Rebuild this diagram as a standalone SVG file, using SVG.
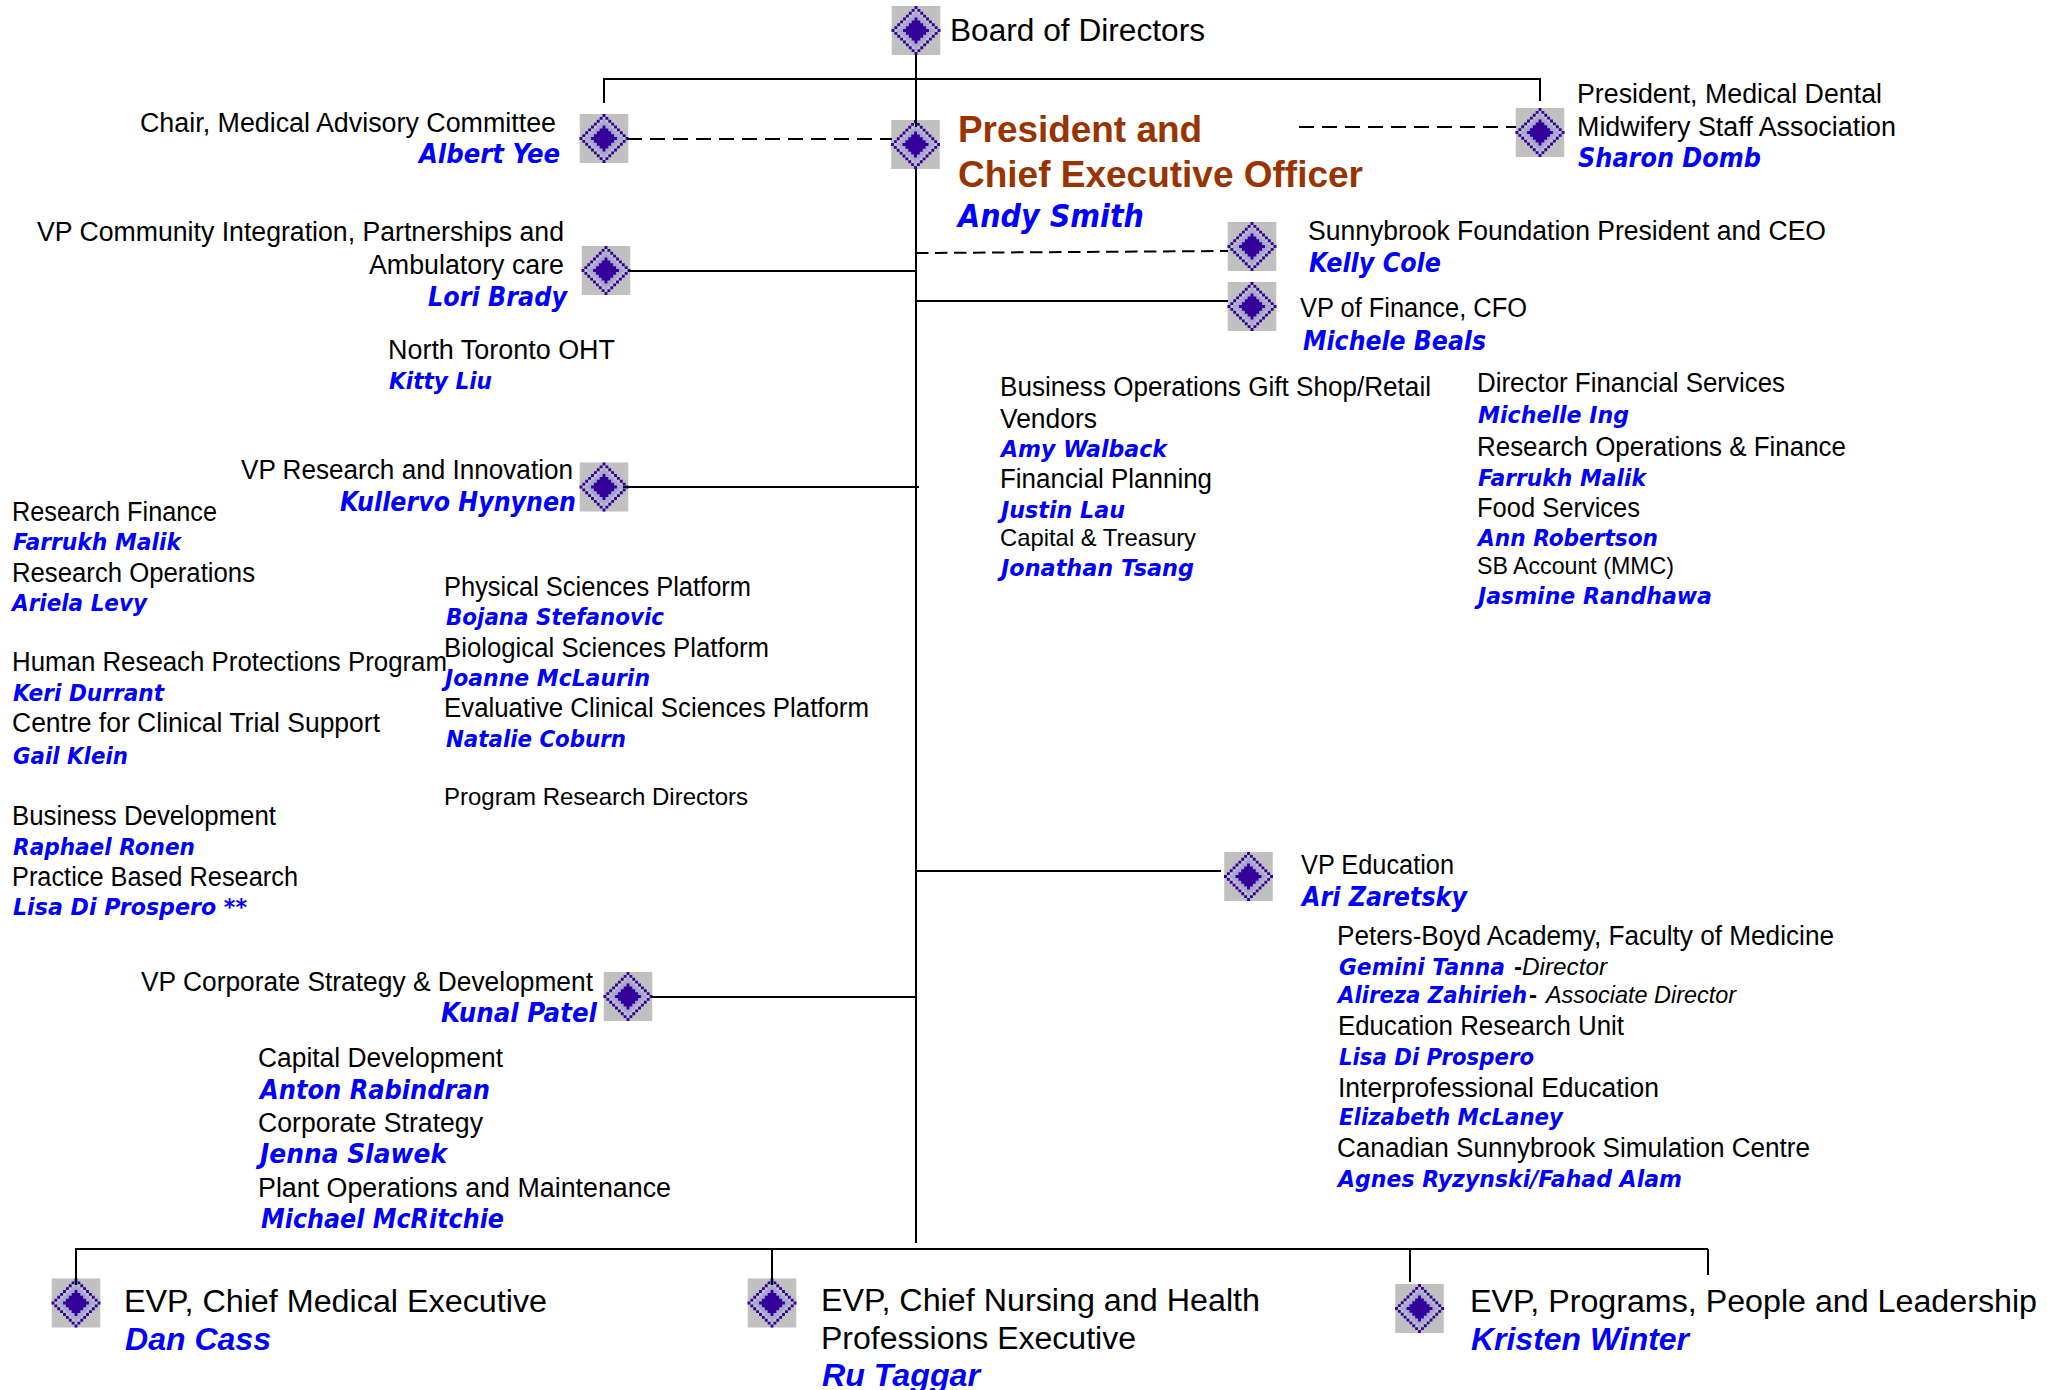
<svg xmlns="http://www.w3.org/2000/svg" width="2047" height="1390" viewBox="0 0 2047 1390">
<style>
text{font-family:"Liberation Sans",Arial,sans-serif;fill:#000;font-size:27px}
.n{font-family:"DejaVu Sans",Verdana,sans-serif;font-weight:bold;font-style:italic;fill:#0000ff;font-size:26.500px}
.s{font-size:24px}
.l{font-size:31px}
.n.s{font-size:23.500px}
.n.l{font-family:"Liberation Sans",Arial,sans-serif;font-size:31px}
.n.x{font-size:32px}
.h{font-size:36px;font-weight:bold;fill:#993300}
.i{font-style:italic;font-size:24px}
.b{font-size:24px;font-weight:bold}
.c line{stroke:#000;stroke-width:2;fill:none}
.c .d{stroke-dasharray:15 8}
.c .e{stroke-dasharray:12.500 6.500}
</style>
<defs>
<g id="dia">
<rect x="-24.250" y="-24.500" width="48.500" height="49" fill="#c0c0c0"/>
<g transform="scale(2.880)">
<path fill="#a8a4d4" d="M-.5-6.500h1v1h1v1h1v1h1v1h1v1h1v1h1v1h-1v1h-1v1h-1v1h-1v1h-1v1h-1v1h-1v-1h-1v-1h-1v-1h-1v-1h-1v-1h-1v-1h-1v-1h1v-1h1v-1h1v-1h1v-1h1v-1h1z"/>
<path fill="#330099" d="M-.5-4.500h1v1h1v1h1v1h1v1h1v1h-1v1h-1v1h-1v1h-1v1h-1v-1h-1v-1h-1v-1h-1v-1h-1v-1h1v-1h1v-1h1v-1h1z"/>
<path fill="#330099" d="M-.5-8.500h1v1h-1zM-.5 7.500h1v1h-1zM-8.500-.5h1v1h-1zM7.500-.5h1v1h-1zM.5-7.500h1v1h-1zM-1.500-7.500h1v1h-1zM.5 6.500h1v1h-1zM-1.500 6.500h1v1h-1zM1.500-6.500h1v1h-1zM-2.500-6.500h1v1h-1zM1.500 5.500h1v1h-1zM-2.500 5.500h1v1h-1zM2.500-5.500h1v1h-1zM-3.500-5.500h1v1h-1zM2.500 4.500h1v1h-1zM-3.500 4.500h1v1h-1zM3.500-4.500h1v1h-1zM-4.500-4.500h1v1h-1zM3.500 3.500h1v1h-1zM-4.500 3.500h1v1h-1zM4.500-3.500h1v1h-1zM-5.500-3.500h1v1h-1zM4.500 2.500h1v1h-1zM-5.500 2.500h1v1h-1zM5.500-2.500h1v1h-1zM-6.500-2.500h1v1h-1zM5.500 1.500h1v1h-1zM-6.500 1.500h1v1h-1zM6.500-1.500h1v1h-1zM-7.500-1.500h1v1h-1zM6.500.5h1v1h-1zM-7.500.5h1v1h-1z"/>
</g>
</g>
</defs>
<rect width="2047" height="1390" fill="#fff"/>
<g id="board"><use href="#dia" x="916" y="30.500"/><text x="950" y="41" class="l" textLength="255" lengthAdjust="spacingAndGlyphs">Board of Directors</text></g>
<g id="ceo"><use href="#dia" x="915.500" y="144.500"/><text x="958" y="142" class="h" textLength="244" lengthAdjust="spacingAndGlyphs">President and</text><text x="958" y="187" class="h" textLength="405" lengthAdjust="spacingAndGlyphs">Chief Executive Officer</text><text x="958" y="227" class="n x" textLength="186" lengthAdjust="spacingAndGlyphs">Andy Smith</text></g>
<g id="chair"><use href="#dia" x="604" y="138.500"/><text x="140" y="132" textLength="416" lengthAdjust="spacingAndGlyphs">Chair, Medical Advisory Committee</text><text x="419" y="163" class="n" textLength="141" lengthAdjust="spacingAndGlyphs">Albert Yee</text></g>
<g id="community"><use href="#dia" x="606" y="270.500"/><text x="37" y="241" textLength="527" lengthAdjust="spacingAndGlyphs">VP Community Integration, Partnerships and</text><text x="369" y="274" textLength="195" lengthAdjust="spacingAndGlyphs">Ambulatory care</text><text x="428" y="306" class="n" textLength="139" lengthAdjust="spacingAndGlyphs">Lori Brady</text></g>
<g id="oht"><text x="388" y="359" textLength="227" lengthAdjust="spacingAndGlyphs">North Toronto OHT</text><text x="389" y="389" class="n s" textLength="103" lengthAdjust="spacingAndGlyphs">Kitty Liu</text></g>
<g id="research"><use href="#dia" x="604" y="487"/><text x="241" y="479" textLength="332" lengthAdjust="spacingAndGlyphs">VP Research and Innovation</text><text x="340" y="511" class="n" textLength="236" lengthAdjust="spacingAndGlyphs">Kullervo Hynynen</text>
<text x="12" y="521" textLength="205" lengthAdjust="spacingAndGlyphs">Research Finance</text><text x="13" y="550" class="n s" textLength="168" lengthAdjust="spacingAndGlyphs">Farrukh Malik</text>
<text x="12" y="582" textLength="243" lengthAdjust="spacingAndGlyphs">Research Operations</text><text x="12" y="611" class="n s" textLength="135" lengthAdjust="spacingAndGlyphs">Ariela Levy</text>
<text x="12" y="671" textLength="435" lengthAdjust="spacingAndGlyphs">Human Reseach Protections Program</text><text x="13" y="701" class="n s" textLength="151" lengthAdjust="spacingAndGlyphs">Keri Durrant</text>
<text x="12" y="732" textLength="368" lengthAdjust="spacingAndGlyphs">Centre for Clinical Trial Support</text><text x="13" y="764" class="n s" textLength="115" lengthAdjust="spacingAndGlyphs">Gail Klein</text>
<text x="12" y="825" textLength="264" lengthAdjust="spacingAndGlyphs">Business Development</text><text x="13" y="855" class="n s" textLength="182" lengthAdjust="spacingAndGlyphs">Raphael Ronen</text>
<text x="12" y="886" textLength="286" lengthAdjust="spacingAndGlyphs">Practice Based Research</text><text x="13" y="915" class="n s" textLength="234" lengthAdjust="spacingAndGlyphs">Lisa Di Prospero **</text>
<text x="444" y="596" textLength="307" lengthAdjust="spacingAndGlyphs">Physical Sciences Platform</text><text x="446" y="625" class="n s" textLength="218" lengthAdjust="spacingAndGlyphs">Bojana Stefanovic</text>
<text x="444" y="657" textLength="325" lengthAdjust="spacingAndGlyphs">Biological Sciences Platform</text><text x="445" y="686" class="n s" textLength="205" lengthAdjust="spacingAndGlyphs">Joanne McLaurin</text>
<text x="444" y="717" textLength="425" lengthAdjust="spacingAndGlyphs">Evaluative Clinical Sciences Platform</text><text x="446" y="747" class="n s" textLength="180" lengthAdjust="spacingAndGlyphs">Natalie Coburn</text>
<text x="444" y="805" class="s" textLength="304" lengthAdjust="spacingAndGlyphs">Program Research Directors</text></g>
<g id="strategy"><use href="#dia" x="628" y="996.500"/><text x="141" y="991" textLength="452" lengthAdjust="spacingAndGlyphs">VP Corporate Strategy &amp; Development</text><text x="441" y="1022" class="n" textLength="156" lengthAdjust="spacingAndGlyphs">Kunal Patel</text>
<text x="258" y="1067" textLength="245" lengthAdjust="spacingAndGlyphs">Capital Development</text><text x="260" y="1099" class="n" textLength="230" lengthAdjust="spacingAndGlyphs">Anton Rabindran</text>
<text x="258" y="1132" textLength="225" lengthAdjust="spacingAndGlyphs">Corporate Strategy</text><text x="260" y="1163" class="n" textLength="187" lengthAdjust="spacingAndGlyphs">Jenna Slawek</text>
<text x="258" y="1197" textLength="413" lengthAdjust="spacingAndGlyphs">Plant Operations and Maintenance</text><text x="261" y="1228" class="n" textLength="243" lengthAdjust="spacingAndGlyphs">Michael McRitchie</text></g>
<g id="medstaff"><use href="#dia" x="1540" y="132.500"/><text x="1577" y="103" textLength="305" lengthAdjust="spacingAndGlyphs">President, Medical Dental</text><text x="1577" y="136" textLength="319" lengthAdjust="spacingAndGlyphs">Midwifery Staff Association</text><text x="1578" y="167" class="n" textLength="183" lengthAdjust="spacingAndGlyphs">Sharon Domb</text></g>
<g id="foundation"><use href="#dia" x="1252" y="246.500"/><text x="1308" y="240" textLength="518" lengthAdjust="spacingAndGlyphs">Sunnybrook Foundation President and CEO</text><text x="1309" y="272" class="n" textLength="132" lengthAdjust="spacingAndGlyphs">Kelly Cole</text></g>
<g id="finance"><use href="#dia" x="1252" y="306.500"/><text x="1300" y="317" textLength="227" lengthAdjust="spacingAndGlyphs">VP of Finance, CFO</text><text x="1303" y="350" class="n" textLength="183" lengthAdjust="spacingAndGlyphs">Michele Beals</text>
<text x="1000" y="396" textLength="431" lengthAdjust="spacingAndGlyphs">Business Operations Gift Shop/Retail</text><text x="1000" y="428" textLength="97" lengthAdjust="spacingAndGlyphs">Vendors</text><text x="1001" y="457" class="n s" textLength="166" lengthAdjust="spacingAndGlyphs">Amy Walback</text>
<text x="1000" y="488" textLength="212" lengthAdjust="spacingAndGlyphs">Financial Planning</text><text x="1001" y="518" class="n s" textLength="124" lengthAdjust="spacingAndGlyphs">Justin Lau</text>
<text x="1000" y="546" class="s" textLength="196" lengthAdjust="spacingAndGlyphs">Capital &amp; Treasury</text><text x="1001" y="576" class="n s" textLength="193" lengthAdjust="spacingAndGlyphs">Jonathan Tsang</text>
<text x="1477" y="392" textLength="308" lengthAdjust="spacingAndGlyphs">Director Financial Services</text><text x="1478" y="423" class="n s" textLength="151" lengthAdjust="spacingAndGlyphs">Michelle Ing</text>
<text x="1477" y="456" textLength="369" lengthAdjust="spacingAndGlyphs">Research Operations &amp; Finance</text><text x="1478" y="486" class="n s" textLength="168" lengthAdjust="spacingAndGlyphs">Farrukh Malik</text>
<text x="1477" y="517" textLength="163" lengthAdjust="spacingAndGlyphs">Food Services</text><text x="1478" y="546" class="n s" textLength="180" lengthAdjust="spacingAndGlyphs">Ann Robertson</text>
<text x="1477" y="574" class="s" textLength="197" lengthAdjust="spacingAndGlyphs">SB Account (MMC)</text><text x="1478" y="604" class="n s" textLength="234" lengthAdjust="spacingAndGlyphs">Jasmine Randhawa</text></g>
<g id="education"><use href="#dia" x="1248.500" y="876.500"/><text x="1301" y="874" textLength="153" lengthAdjust="spacingAndGlyphs">VP Education</text><text x="1302" y="906" class="n" textLength="165" lengthAdjust="spacingAndGlyphs">Ari Zaretsky</text>
<text x="1337" y="945" textLength="497" lengthAdjust="spacingAndGlyphs">Peters-Boyd Academy, Faculty of Medicine</text>
<text x="1339" y="975" class="n s" textLength="166" lengthAdjust="spacingAndGlyphs">Gemini Tanna</text><text x="1514" y="975" class="b">-</text><text x="1522" y="975" class="i" textLength="85" lengthAdjust="spacingAndGlyphs">Director</text>
<text x="1338" y="1003" class="n s" textLength="189" lengthAdjust="spacingAndGlyphs">Alireza Zahirieh</text><text x="1529" y="1003" class="b">-</text><text x="1546" y="1003" class="i" textLength="190" lengthAdjust="spacingAndGlyphs">Associate Director</text>
<text x="1338" y="1035" textLength="286" lengthAdjust="spacingAndGlyphs">Education Research Unit</text><text x="1339" y="1065" class="n s" textLength="195" lengthAdjust="spacingAndGlyphs">Lisa Di Prospero</text>
<text x="1338" y="1097" textLength="321" lengthAdjust="spacingAndGlyphs">Interprofessional Education</text><text x="1339" y="1125" class="n s" textLength="224" lengthAdjust="spacingAndGlyphs">Elizabeth McLaney</text>
<text x="1337" y="1157" textLength="473" lengthAdjust="spacingAndGlyphs">Canadian Sunnybrook Simulation Centre</text><text x="1338" y="1187" class="n s" textLength="344" lengthAdjust="spacingAndGlyphs">Agnes Ryzynski/Fahad Alam</text></g>
<g id="cme"><use href="#dia" x="76" y="1303"/><text x="124" y="1312" class="l" textLength="423" lengthAdjust="spacingAndGlyphs">EVP, Chief Medical Executive</text><text x="125" y="1350" class="n l" textLength="146" lengthAdjust="spacingAndGlyphs">Dan Cass</text></g>
<g id="cno"><use href="#dia" x="772" y="1303"/><text x="821" y="1311" class="l" textLength="439" lengthAdjust="spacingAndGlyphs">EVP, Chief Nursing and Health</text><text x="821" y="1349" class="l" textLength="315" lengthAdjust="spacingAndGlyphs">Professions Executive</text><text x="822" y="1386" class="n l" textLength="158" lengthAdjust="spacingAndGlyphs">Ru Taggar</text></g>
<g id="people"><use href="#dia" x="1419.500" y="1308.500"/><text x="1470" y="1312" class="l" textLength="567" lengthAdjust="spacingAndGlyphs">EVP, Programs, People and Leadership</text><text x="1471" y="1350" class="n l" textLength="218" lengthAdjust="spacingAndGlyphs">Kristen Winter</text></g>
<g id="connectors" class="c">
<line x1="916" y1="55" x2="916" y2="127"/><line x1="916" y1="169" x2="916" y2="1243"/>
<line x1="603" y1="79" x2="1541" y2="79"/><line x1="604" y1="79" x2="604" y2="103"/><line x1="1540" y1="79" x2="1540" y2="101"/>
<line class="d" x1="627" y1="139" x2="892" y2="139"/><line class="d" x1="1299" y1="127" x2="1516" y2="127"/><line class="e" x1="916" y1="253" x2="1228" y2="251"/>
<line x1="628" y1="271" x2="916" y2="271"/><line x1="916" y1="301" x2="1228" y2="301"/><line x1="623" y1="487" x2="919" y2="487"/><line x1="916" y1="871" x2="1221" y2="871"/><line x1="652" y1="997" x2="916" y2="997"/>
<line x1="75" y1="1249" x2="1708" y2="1249"/><line x1="76" y1="1249" x2="76" y2="1285"/><line x1="772" y1="1249" x2="772" y2="1285"/><line x1="1410" y1="1249" x2="1410" y2="1282"/><line x1="1708" y1="1249" x2="1708" y2="1275"/>
</g>
</svg>
